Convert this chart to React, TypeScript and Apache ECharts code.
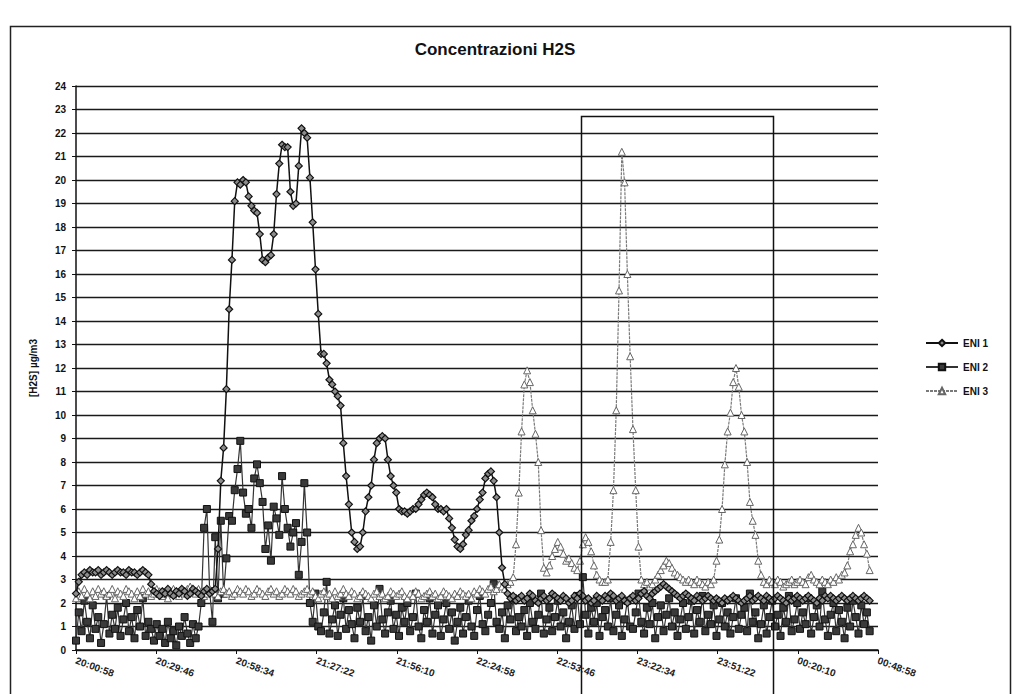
import React, { useEffect, useRef } from "react";
import * as echarts from "echarts";

// Time sampling: one reading per minute starting at 20:00:58
const startTime = "20:00:58";
const stepSeconds = 60;
const xTickInterval = 1728; // 28:48
const xMaxSeconds = 17280; // 00:48:58

const seriesNames = ["ENI 1", "ENI 2", "ENI 3"];

const eni1 = [
  2.4, 2.9, 3.2, 3.3, 3.2, 3.4, 3.3, 3.3, 3.4, 3.2,
  3.3, 3.4, 3.3, 3.2, 3.3, 3.4, 3.3, 3.3, 3.2, 3.4,
  3.3, 3.3, 3.2, 3.3, 3.4, 3.3, 3.2, 2.8, 2.5, 2.4,
  2.3, 2.5, 2.4, 2.6, 2.4, 2.3, 2.5, 2.4, 2.6, 2.5,
  2.3, 2.4, 2.6, 2.5, 2.4, 2.3, 2.5, 2.6, 2.4, 2.5,
  2.6, 4.3, 7.2, 8.6, 11.1, 14.5, 16.6, 19.1, 19.9, 19.8,
  20.0, 19.9, 19.3, 18.9, 18.7, 18.6, 17.7, 16.6, 16.5, 16.7,
  16.8, 17.7, 19.4, 20.7, 21.5, 21.4, 21.4, 19.5, 18.9, 19.0,
  20.6, 22.2, 22.0, 21.8, 20.1, 18.2, 16.2, 14.3, 12.6, 12.6,
  12.2, 11.5, 11.3, 11.0, 10.8, 10.4, 8.8, 7.4, 6.2, 5.0,
  4.6, 4.3, 4.4, 5.0, 5.9, 6.5, 7.0, 8.1, 8.8, 9.0,
  9.1, 9.0, 8.1, 7.4, 7.0, 6.7, 6.0, 5.9, 5.9, 5.8,
  5.9, 6.0, 6.0, 6.2, 6.4, 6.6, 6.7, 6.6, 6.5, 6.2,
  6.0, 6.0, 5.9, 6.0, 5.6, 5.2, 4.7, 4.4, 4.3, 4.5,
  4.9, 5.1, 5.5, 5.7, 6.0, 6.4, 6.7, 7.3, 7.5, 7.6,
  7.2, 6.5, 5.0, 3.5, 2.8, 2.4, 2.2, 2.3, 2.1, 2.2,
  2.3, 2.1, 2.2, 2.4, 2.3, 2.1, 2.0, 2.2, 2.3, 2.1,
  2.2, 2.4, 2.3, 2.2, 2.1, 2.3, 2.2, 2.0, 2.1, 2.3,
  2.2, 2.4, 2.3, 2.1, 2.2, 2.0, 2.1, 2.3, 2.2, 2.1,
  2.3, 2.2, 2.4, 2.3, 2.1, 2.2, 2.3, 2.1, 2.0, 2.2,
  2.3, 2.1, 2.2, 2.4, 2.5, 2.3, 2.2, 2.4, 2.5, 2.6,
  2.7, 2.8, 2.7, 2.6, 2.5, 2.4, 2.3, 2.2, 2.3, 2.4,
  2.3, 2.2, 2.1, 2.3, 2.2, 2.1, 2.2, 2.3, 2.2, 2.1,
  2.2, 2.1, 2.0, 2.2, 2.1, 2.2, 2.3, 2.2, 2.1, 2.0,
  2.1, 2.2, 2.3, 2.1, 2.2, 2.3, 2.2, 2.1, 2.3, 2.2,
  2.1, 2.2, 2.3, 2.2, 2.1, 2.0, 2.2, 2.1, 2.2, 2.3,
  2.2, 2.1, 2.2, 2.3, 2.2, 2.1, 2.0, 2.2, 2.1, 2.3,
  2.2, 2.3, 2.2, 2.1, 2.2, 2.3, 2.2, 2.1, 2.2, 2.3,
  2.2, 2.1, 2.2, 2.3, 2.2, 2.1,
];

const eni2 = [
  0.4, 1.6, 0.8, 2.1, 1.2, 0.5, 1.9, 0.9, 1.4, 0.3,
  1.1, 2.3, 0.7, 1.5, 0.9, 1.8, 0.6, 1.3, 2.0, 0.8,
  1.4, 0.5, 1.7, 1.0, 2.2, 0.6, 1.2, 0.9, 0.4, 1.1,
  0.6, 0.9, 0.3, 1.2, 0.5, 0.8, 0.2, 1.0, 0.6, 1.4,
  0.7, 0.3, 1.1, 0.5, 1.0, 2.0, 5.2, 6.0, 2.5, 1.2,
  4.8, 2.2, 5.5, 2.4, 3.9, 5.7, 5.5, 6.8, 7.7, 8.9,
  6.7, 5.8, 6.0, 5.2, 7.3, 7.9, 7.1, 6.3, 4.3, 5.3,
  3.8, 6.1, 5.6, 4.9, 7.4, 6.0, 5.2, 4.4, 5.0, 5.4,
  3.2, 4.6, 7.1, 5.0, 2.0, 1.2, 2.4, 1.0, 0.8, 1.6,
  2.9, 0.7, 1.3, 1.9, 0.6, 1.5, 2.2, 0.9, 1.7, 1.1,
  0.5, 1.8, 1.2, 2.3, 0.8, 1.4, 0.4, 1.9, 1.0, 2.6,
  1.3, 0.7, 1.6, 2.1, 0.9, 1.5, 0.6, 1.8, 1.2, 2.0,
  0.8, 1.4, 2.4, 1.0, 0.5, 1.7, 1.2, 2.2, 0.7, 1.5,
  1.9, 0.6, 1.3, 2.0, 0.9, 1.6, 0.4, 1.2, 1.8, 0.7,
  1.4, 2.1, 1.0, 0.6, 1.7, 2.3, 1.1, 0.8, 1.5, 2.0,
  2.8, 1.2, 0.9, 1.6, 0.5, 1.9, 1.3, 2.2, 0.8, 1.4,
  1.0, 1.7, 0.6, 2.0, 1.2, 0.9, 1.5, 2.4, 0.7, 1.3,
  1.8, 0.8, 1.4, 2.1, 1.0, 1.6, 0.5, 1.2, 1.9, 0.9,
  2.3, 1.1, 3.1, 1.5, 0.7, 1.8, 1.2, 2.0, 0.6, 1.4,
  1.7, 1.0, 2.2, 0.8, 1.5, 1.9, 0.6, 1.3, 2.1, 1.0,
  0.9, 1.6, 2.4, 1.2, 0.7, 1.8, 1.1, 2.0, 0.5, 1.4,
  1.9, 0.8, 1.5, 2.2, 1.0, 1.6, 0.6, 1.3, 2.0, 0.9,
  1.4, 2.1, 0.7, 1.7, 1.2, 2.3, 0.8, 1.5, 1.1, 1.9,
  0.6, 1.3, 2.0, 1.0, 1.6, 0.7, 1.4, 2.2, 0.9, 1.5,
  1.8, 0.8, 2.4, 1.2, 1.6, 0.5, 1.1, 1.9, 0.7, 1.4,
  2.1, 1.0, 1.5, 0.6, 1.8, 1.2, 2.3, 0.8, 1.3, 2.0,
  0.9, 1.6, 1.1, 2.2, 0.7, 1.4, 1.9, 1.0, 2.5, 1.3,
  0.6, 1.5, 2.0, 0.8, 1.7, 1.2, 0.5, 1.8, 1.0, 2.1,
  1.4, 0.7, 1.9, 1.1, 1.6, 0.8,
];

const eni3 = [
  2.2, 2.5, 2.3, 2.6, 2.4, 2.2, 2.5, 2.3, 2.6, 2.4,
  2.5, 2.3, 2.4, 2.6, 2.2, 2.5, 2.4, 2.3, 2.6, 2.5,
  2.4, 2.2, 2.5, 2.3, 2.6, 2.4, 2.5, 2.3, 2.4, 2.6,
  2.5, 2.3, 2.4, 2.2, 2.5, 2.6, 2.4, 2.3, 2.5, 2.4,
  2.6, 2.7, 2.5, 2.4, 2.6, 2.5, 2.3, 2.4, 2.6, 2.5,
  2.4, 2.3, 2.5, 2.6, 2.4, 2.5, 2.3, 2.4, 2.6, 2.5,
  2.4, 2.6, 2.5, 2.3, 2.4, 2.6, 2.5, 2.4, 2.3, 2.5,
  2.6, 2.4, 2.5, 2.3, 2.4, 2.6, 2.5, 2.4, 2.6, 2.5,
  2.3, 2.4, 2.5, 2.6, 2.4, 2.5, 2.3, 2.2, 2.4, 2.5,
  2.3, 2.4, 2.2, 2.5, 2.3, 2.4, 2.6, 2.4, 2.3, 2.5,
  2.4, 2.2, 2.3, 2.5, 2.4, 2.3, 2.2, 2.4, 2.5, 2.3,
  2.4, 2.2, 2.3, 2.5, 2.4, 2.3, 2.4, 2.5, 2.3, 2.2,
  2.4, 2.3, 2.5, 2.4, 2.2, 2.3, 2.4, 2.5, 2.3, 2.4,
  2.2, 2.3, 2.5, 2.4, 2.3, 2.2, 2.4, 2.3, 2.5, 2.4,
  2.3, 2.4, 2.2, 2.5, 2.4, 2.6, 2.5, 2.4, 2.6, 2.7,
  2.5, 2.6, 2.8, 2.7, 2.6, 2.8, 2.9, 3.1, 4.5, 6.7,
  9.3, 11.3, 11.9, 11.4, 10.2, 9.2, 8.0, 5.1, 3.5, 3.3,
  3.6, 4.0, 4.3, 4.6, 4.4, 4.1, 3.8, 3.9, 3.7, 3.5,
  3.4, 3.8, 4.5, 4.8, 4.6, 4.2, 3.6, 3.2, 3.0, 2.9,
  2.9, 3.0, 4.6, 6.8, 10.2, 15.3, 21.2, 19.9, 16.0, 12.5,
  9.4, 6.8, 4.4, 3.0, 2.8, 2.9, 2.7, 2.8, 3.0, 3.2,
  3.4, 3.6, 3.8, 3.7, 3.5, 3.3, 3.2, 3.1, 3.0, 2.9,
  3.0, 2.9, 2.8, 3.0, 2.9, 2.8, 2.7, 2.9, 2.8, 3.0,
  3.8, 4.7, 6.0, 7.9, 9.3, 10.1, 11.4, 12.0, 11.2, 10.0,
  9.3, 8.0, 6.3, 5.5, 4.9, 3.8, 3.2, 2.9, 2.8, 3.0,
  2.9, 2.8, 3.0, 2.9, 2.7, 2.8, 2.9, 3.0, 2.8, 2.9,
  3.0, 2.9, 2.8, 3.1, 3.2, 3.0, 2.9, 2.8, 3.0, 2.9,
  2.8, 3.0, 2.9, 3.1, 3.0, 3.2, 3.3, 3.6, 4.2, 4.5,
  4.9, 5.2, 5.0, 4.5, 4.1, 3.4,
];

const yMin = 0;
const yMax = 24;
const yInterval = 1;

const FONT = "'Liberation Sans', 'Open Sans', sans-serif";

function parseHMS(s: string): number {
  const [h, m, sec] = s.split(":").map(Number);
  return h * 3600 + m * 60 + sec;
}

function fmtTime(offset: number): string {
  const total = (parseHMS(startTime) + Math.round(offset)) % 86400;
  const h = Math.floor(total / 3600);
  const m = Math.floor((total % 3600) / 60);
  const s = total % 60;
  const p = (n: number) => String(n).padStart(2, "0");
  return `${p(h)}:${p(m)}:${p(s)}`;
}

function toPairs(values: number[]): [number, number][] {
  return values.map((v, i) => [i * stepSeconds, v]);
}

export default function App() {
  const ref = useRef<HTMLDivElement>(null);

  useEffect(() => {
    document.body.style.margin = "0";
    if (!ref.current) return;
    const chart = echarts.init(ref.current, undefined, { renderer: "svg" });

    const option: any = {
      animation: false,
      backgroundColor: "#ffffff",
      title: {
        text: "Concentrazioni H2S",
        left: 490,
        top: 36,
        textAlign: "center",
        textStyle: {
          fontFamily: FONT,
          fontSize: 17,
          fontWeight: "bold",
          color: "#111",
        },
      },
      legend: {
        orient: "vertical",
        left: 920,
        top: 333,
        itemGap: 14,
        itemWidth: 32,
        itemHeight: 8,
        data: seriesNames,
        textStyle: { fontFamily: FONT, fontSize: 10, fontWeight: "bold", color: "#111" },
      },
      grid: { left: 76, right: 135, top: 86, bottom: 44, containLabel: false },
      xAxis: {
        type: "value",
        min: 0,
        max: xMaxSeconds,
        interval: xTickInterval,
        axisLine: { show: true, onZero: false, lineStyle: { color: "#111", width: 1.5 } },
        axisTick: { show: true, length: 4, lineStyle: { color: "#111" } },
        splitLine: { show: false },
        axisLabel: {
          rotate: -20,
          margin: 10,
          fontFamily: FONT,
          fontSize: 10,
          fontWeight: "bold",
          color: "#222",
          showMaxLabel: true,
          formatter: (v: number) => fmtTime(v),
        },
      },
      yAxis: {
        type: "value",
        min: yMin,
        max: yMax,
        interval: yInterval,
        name: "[H2S] µg/m3",
        nameLocation: "middle",
        nameGap: 38,
        nameRotate: 90,
        nameTextStyle: { fontFamily: FONT, fontSize: 10, fontWeight: "bold", color: "#111" },
        axisLine: { show: true, lineStyle: { color: "#111", width: 1.5 } },
        axisTick: { show: true, length: 4, lineStyle: { color: "#111" } },
        splitLine: { show: true, lineStyle: { color: "#1a1a1a", width: 1.4 } },
        axisLabel: {
          margin: 10,
          fontFamily: FONT,
          fontSize: 10,
          fontWeight: "bold",
          color: "#111",
        },
      },
      series: [
        {
          name: seriesNames[0],
          type: "line",
          data: toPairs(eni1),
          z: 5,
          symbol: "diamond",
          symbolSize: 7,
          showAllSymbol: true,
          lineStyle: { color: "#111", width: 1.5 },
          itemStyle: { color: "#8c8c8c", borderColor: "#111", borderWidth: 1.2 },
        },
        {
          name: seriesNames[1],
          type: "line",
          data: toPairs(eni2),
          z: 3,
          symbol: "rect",
          symbolSize: 7,
          showAllSymbol: true,
          lineStyle: { color: "#333", width: 1.2 },
          itemStyle: { color: "#3a3a3a", borderColor: "#111", borderWidth: 1 },
        },
        {
          name: seriesNames[2],
          type: "line",
          data: toPairs(eni3),
          z: 4,
          symbol: "triangle",
          symbolSize: 7,
          showAllSymbol: true,
          lineStyle: { color: "#7a7a7a", width: 1.2, type: [3, 1] },
          itemStyle: { color: "#ffffff", borderColor: "#666", borderWidth: 1 },
        },
      ],
      graphic: [
        {
          type: "rect",
          left: 8,
          top: 24,
          z: 0,
          silent: true,
          shape: { width: 1000, height: 680 },
          style: { fill: "none", stroke: "#222", lineWidth: 1.5 },
        },
        {
          type: "rect",
          left: 579,
          top: 114,
          z: 100,
          silent: true,
          shape: { width: 192, height: 600 },
          style: { fill: "none", stroke: "#111", lineWidth: 1.5 },
        },
      ],
    };

    chart.setOption(option);
    return () => {
      chart.dispose();
    };
  }, []);

  return <div ref={ref} style={{ width: 1013, height: 694 }} />;
}
